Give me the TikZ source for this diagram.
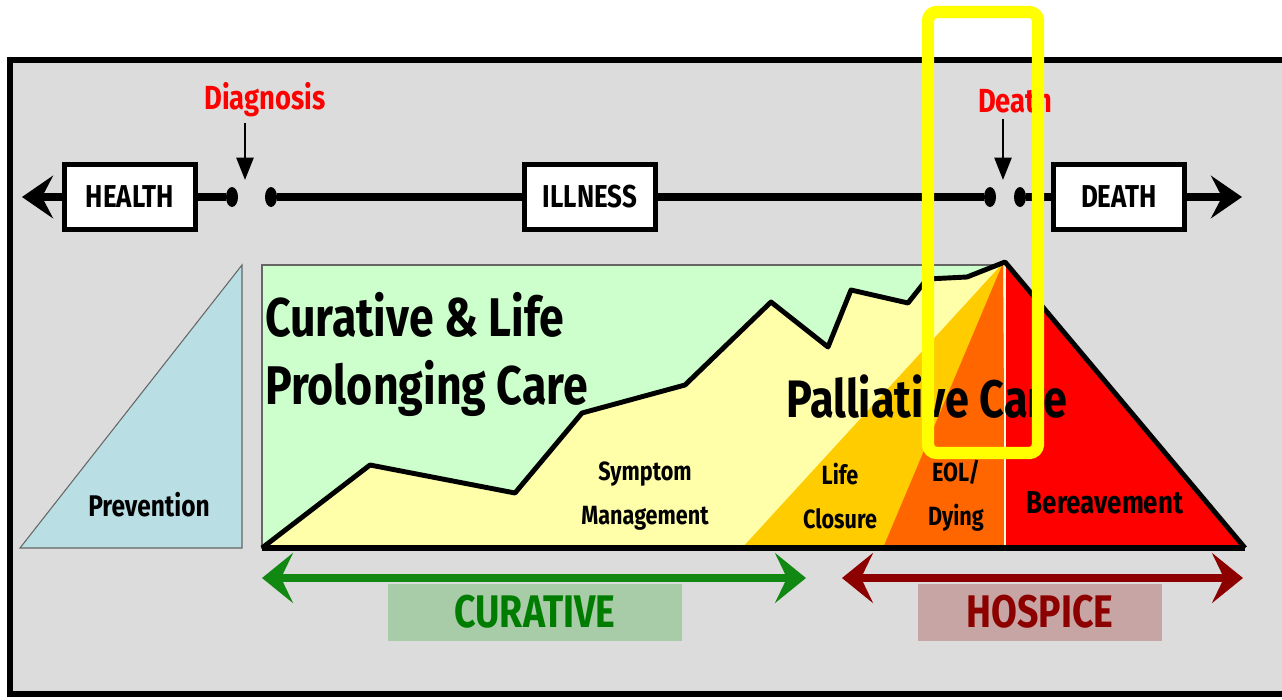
\documentclass[tikz,border=0pt]{standalone}
\usepackage{fontspec}
\setmainfont{Fira Sans}[FakeStretch=0.82]
\usetikzlibrary{arrows.meta,positioning,shapes.geometric}

\definecolor{framegray}{RGB}{220,220,220}
\definecolor{prevblue}{RGB}{185,222,228}
\definecolor{curegreen}{RGB}{204,255,204}
\definecolor{sympyellow}{RGB}{255,255,170}
\definecolor{lifegold}{RGB}{255,204,0}
\definecolor{eolorange}{RGB}{255,102,0}
\definecolor{berred}{RGB}{255,0,0}
\definecolor{arrgreen}{RGB}{17,136,17}
\definecolor{txtgreen}{RGB}{0,125,0}
\definecolor{curbox}{RGB}{168,204,168}
\definecolor{arrred}{RGB}{140,0,0}
\definecolor{hospbox}{RGB}{200,165,165}
\definecolor{hilite}{RGB}{255,255,0}

\newcommand\fsz[2]{\bfseries\fontsize{#1}{#2}\selectfont}

\tikzset{
  lbox/.style={draw=black, line width=2.6pt, fill=white,
    minimum width=2.62cm, minimum height=1.3cm, inner sep=0pt,
    font=\fsz{18}{18}},
  dot/.style={ellipse, fill=black, minimum width=0.24cm,
    minimum height=0.4cm, inner sep=0pt},
  tline/.style={line width=4.4pt},
  tarrow/.style={tline, -{Stealth[length=0.62cm,width=0.85cm,inset=0.22cm]}},
  evt/.style={text=red, font=\fsz{19}{19}},
  evtarrow/.style={line width=1.6pt, -{Triangle[length=0.45cm,width=0.34cm]}},
  bigtxt/.style={font=\fsz{31}{40}, anchor=west, inner sep=0pt},
  smalltxt/.style={font=\fsz{15}{25}, align=center, inner sep=0pt},
  bigarrow/.style={line width=5pt,
    {Stealth[length=0.62cm,width=1.0cm,inset=0.24cm]}-{Stealth[length=0.62cm,width=1.0cm,inset=0.24cm]}},
  tagbox/.style={minimum width=#1, minimum height=1.14cm, inner sep=0pt,
    font=\fsz{26}{26}}
}

\begin{document}
\begin{tikzpicture}[x=0.02cm, y=-0.02cm]

\useasboundingbox (0,0) rectangle (1282,700);
\fill[white] (0,0) rectangle (1282,700);

% frame
\draw[line width=3pt, fill=framegray] (10,60) rectangle (1300,694);

% timeline
\node[lbox] (health) at (130,197) {HEALTH};
\node[lbox] (illness) at (590,197) {ILLNESS};
\node[lbox] (death) at (1119,197) {DEATH};
\node[dot] (dg1) at (232,197) {};
\node[dot] (dg2) at (271,197) {};
\node[dot] (dd1) at (990,197) {};
\node[dot] (dd2) at (1020,197) {};
\coordinate (ltip) at (22,197);
\coordinate (rtip) at (1242,197);

\draw[tarrow] (health.west) -- (ltip);
\draw[tline] (health.east) -- (dg1);
\draw[tline] (dg2) -- (illness.west);
\draw[tline] (illness.east) -- (dd1);
\draw[tline] (dd2) -- (death.west);
\draw[tarrow] (death.east) -- (rtip);

\node[evt] (diag) at (265,100) {Diagnosis};
\node[evt] (dth) at (1015,100) {Death};
\draw[evtarrow] (diag.south -| 245,0) -- (245,180);
\draw[evtarrow] (dth.south -| 1003,0) -- (1003,180);

% prevention
\filldraw[fill=prevblue, draw=gray!80!black, line width=0.6pt]
  (20,548) -- (242,265) -- (242,548) -- cycle;
\node[smalltxt, font=\fsz{17}{17}] (prev) at (149,505) {Prevention};

% care areas
\filldraw[fill=curegreen, draw=gray!80!black, line width=0.6pt]
  (262,265) rectangle (1003,548);
\fill[sympyellow] (262,548) -- (370,465) -- (515,493) -- (582,413)
  -- (685,385) -- (771,302) -- (828,347) -- (851,290) -- (908,303)
  -- (927,279) -- (967,277) -- (1005,262) -- (1005,548) -- cycle;
\fill[lifegold] (742,548) -- (1003,263) -- (1005,548) -- cycle;
\fill[eolorange] (883,548) -- (1003,263) -- (1005,548) -- cycle;
\fill[berred] (1005,262) -- (1245,548) -- (1005,548) -- cycle;
\draw[white!85!yellow, line width=1.3pt] (1005,266) -- (1005,546);

\draw[line width=2.8pt, line join=round] (262,548) -- (370,465) -- (515,493)
  -- (582,413) -- (685,385) -- (771,302) -- (828,347) -- (851,290)
  -- (908,303) -- (927,279) -- (967,277) -- (1005,262) -- (1245,548);
\draw[line width=3.6pt] (262,548) -- (1245,548);

\node[bigtxt] (cure1) at (265,315) {Curative \& Life};
\node[bigtxt] (cure2) at (265,388) {Prolonging Care};
\node[bigtxt, anchor=center, font=\fsz{30}{30}] (pall) at (927,397) {Palliative Care};

\node[smalltxt] (symp) at (645,496) {Symptom\\Management};
\node[smalltxt] (life) at (840,496) {Life\\Closure};
\node[smalltxt] (eol) at (956,496) {EOL/\\Dying};
\node[smalltxt, font=\fsz{18}{18}] (bere) at (1105,503) {Bereavement};

% bottom spans
\coordinate (cl) at (262,578);
\coordinate (cr) at (806,578);
\coordinate (hl) at (842,578);
\coordinate (hr) at (1243,578);
\node[tagbox=5.9cm, fill=curbox, text=txtgreen] (curative) at (535,612) {CURATIVE};
\node[tagbox=4.9cm, fill=hospbox, text=arrred] (hospice) at (1040,612) {HOSPICE};
\draw[bigarrow, arrgreen] (cl) -- (cr);
\draw[bigarrow, arrred] (hl) -- (hr);

% highlight
\draw[hilite, line width=7pt, rounded corners=5pt] (928,12) rectangle (1038,453);

\end{tikzpicture}
\end{document}
